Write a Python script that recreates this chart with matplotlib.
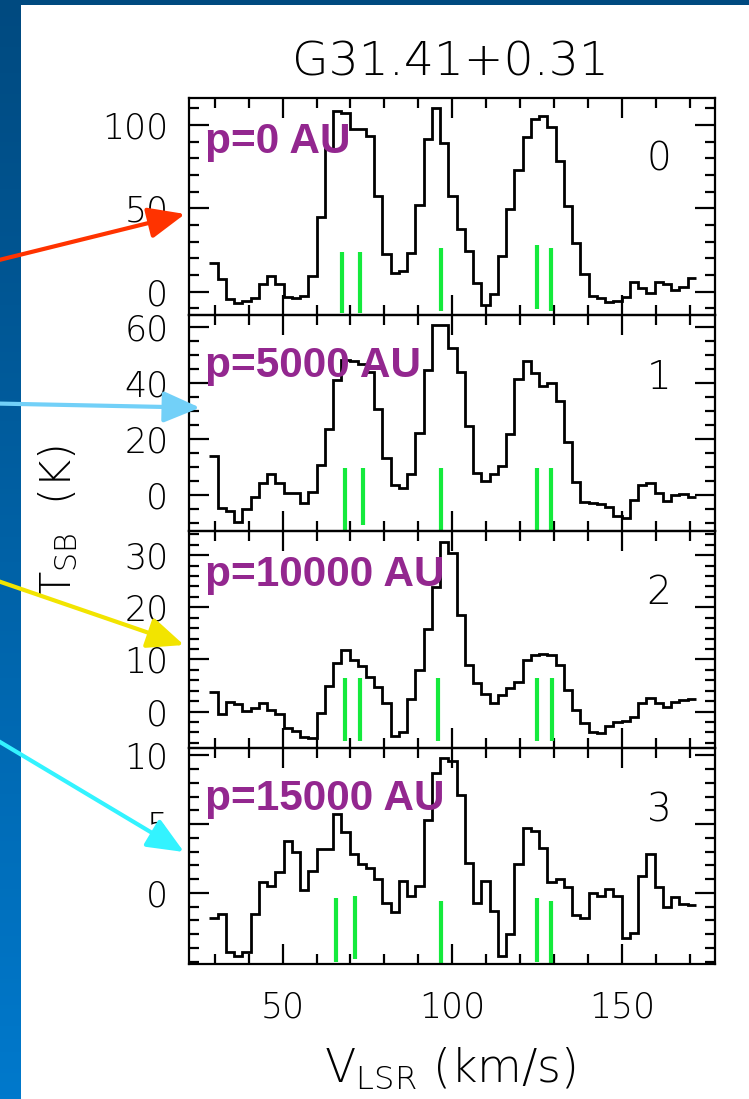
import numpy as np
import matplotlib
matplotlib.use('Agg')
import matplotlib.pyplot as plt
from matplotlib.patches import FancyArrowPatch
from matplotlib.ticker import MultipleLocator, FixedLocator
from matplotlib.colors import LinearSegmentedColormap

W, H = 749, 1099

# velocity grid (km/s)
chan_start = 28.4
chan_width = 2.43

# brightness temperature per channel (K)
spec_p0 = [17.4, 7.8, -4.2, -6.6, -5.6, -3.6, 4.4, 9.4, 4.8, -3.0,
           -4.0, -2.6, 9.4, 45.0, 85.4, 108.4, 107.4, 97.8, 97.8, 93.4,
           57.4, 22.4, 11.4, 12.4, 23.0, 51.8, 91.4, 110.4, 89.4, 57.4,
           37.8, 24.4, 5.4, -8.2, -1.6, 21.4, 49.4, 72.8, 93.0, 103.8,
           105.4, 99.0, 78.4, 51.4, 29.0, 10.4, -2.6, -4.0, -6.0, -5.6,
           -3.2, 6.0, 2.4, -1.0, 5.8, 4.4, 0.8, 3.0, 8.0]
spec_p1 = [14.0, -4.8, -5.6, -9.5, -5.0, -0.6, 4.4, 7.4, 4.2, 0.8,
           0.6, -3.0, 1.2, 10.7, 23.5, 41.0, 48.1, 47.8, 46.9, 44.0,
           30.7, 13.3, 3.6, 2.4, 7.5, 22.0, 44.6, 60.6, 60.6, 52.5,
           44.0, 24.7, 8.0, 5.1, 7.4, 10.3, 21.6, 41.4, 47.9, 43.4,
           38.9, 40.0, 33.6, 18.8, 4.8, -2.4, -3.0, -3.3, -4.4, -7.5,
           -8.1, -1.8, 3.6, 4.2, 0.8, -2.1, 0.0, 0.4, -0.6]
spec_p2 = [3.7, -0.4, 1.9, 1.5, 0.1, 0.6, 1.7, 0.3, -0.5, -3.1,
           -3.7, -4.9, -5.1, -0.3, 5.0, 9.4, 11.9, 9.9, 8.8, 6.6,
           4.8, 1.6, -4.7, -4.0, 2.4, 8.0, 15.8, 23.9, 32.6, 30.5,
           18.5, 8.9, 5.4, 3.4, 1.6, 3.1, 4.5, 5.7, 9.8, 10.9,
           11.0, 10.9, 8.9, 4.2, 0.4, -2.2, -4.0, -4.2, -2.7, -2.0,
           -1.8, -1.1, 1.6, 2.7, 1.6, 0.8, 1.9, 2.2, 2.4]
spec_p3 = [-1.8, -1.5, -4.3, -4.6, -4.3, -1.5, 0.8, 0.5, 1.5, 3.8,
           3.0, 0.2, 1.6, 3.2, 3.2, 5.7, 4.4, 2.8, 2.1, 1.8,
           1.0, -0.7, -1.4, 0.9, -0.2, 0.5, 5.3, 8.7, 9.8, 9.6,
           7.1, 2.2, -0.7, 0.9, -1.3, -4.6, -3.0, 2.1, 4.7, 4.5,
           3.3, 0.8, 1.0, 0.4, -1.6, -1.8, 0.0, -0.2, 0.3, -0.2,
           -3.3, -2.9, 1.2, 2.8, 0.4, -1.0, -0.3, -0.8, -0.9]
spectra = [spec_p0, spec_p1, spec_p2, spec_p3]

# green component markers: velocity, bottom, top (K)
green_v = [[67.5, 72.9, 96.7, 124.9, 129.0],
           [68.3, 73.8, 96.7, 124.9, 129.0],
           [68.3, 72.9, 95.7, 124.9, 129.5],
           [65.8, 71.4, 96.7, 124.9, 129.0]]
green_lo = [[-13.0, -13.0, -11.6, -10.2, -11.6],
            [-12.9, -10.7, -12.9, -12.9, -12.9],
            [-5.6, -5.6, -5.6, -5.6, -5.6],
            [-5.0, -4.8, -5.2, -5.0, -5.2]]
green_hi = [[24.0, 24.0, 26.0, 27.8, 26.0],
            [9.7, 9.7, 9.7, 9.7, 9.7],
            [6.4, 6.4, 6.4, 6.4, 6.4],
            [-0.4, -0.2, -0.6, -0.4, -0.6]]

offset_labels = ['p=0 AU', 'p=5000 AU', 'p=10000 AU', 'p=15000 AU']
panel_numbers = ['0', '1', '2', '3']
y_ticks = [[0, 50, 100], [0, 20, 40, 60], [0, 10, 20, 30], [0, 5, 10]]
y_minor = [10, 5, 2, 1]
y_limits = [(-13.8, 116.0), (-12.9, 64.3), (-6.9, 34.6), (-5.16, 10.56)]
x_limits = (22.5, 177.5)
x_ticks = [50, 100, 150]
title = 'G31.41+0.31'

edges = chan_start + chan_width * np.arange(len(spec_p0) + 1)

plt.rcParams['font.family'] = ['DejaVu Sans']
plt.rcParams['font.weight'] = 'light'

fig = plt.figure(figsize=(W / 100, H / 100), dpi=100)
fig.patch.set_facecolor('white')

# blue slide background strips
grad = np.linspace(0, 1, 256).reshape(-1, 1)
bcm = LinearSegmentedColormap.from_list('b', ['#004a80', '#0079cc'])
bax = fig.add_axes([0, 0, 21 / W, 1])
bax.imshow(grad, aspect='auto', cmap=bcm, extent=[0, 1, 0, 1], origin='upper')
bax.set_axis_off()
tax = fig.add_axes([0, 1 - 5 / H, 1, 5 / H])
tax.set_facecolor('#004a80')
tax.set_xticks([]); tax.set_yticks([])
for s in tax.spines.values():
    s.set_visible(False)

left, right = 189.3 / W, 715.3 / W
top, bottom = 1 - 98.3 / H, 1 - 964.0 / H
ph = (top - bottom) / 4

lw_ax = 1.6
axes = []
for i in range(4):
    ax = fig.add_axes([left, top - (i + 1) * ph, right - left, ph])
    axes.append(ax)
    ax.stairs(spectra[i], edges, baseline=None, color='black', lw=2.0, zorder=3)
    ax.vlines(green_v[i], green_lo[i], green_hi[i], color='#14ea3c', lw=3.0, zorder=2)
    ax.set_xlim(*x_limits)
    ax.set_ylim(*y_limits[i])
    ax.xaxis.set_major_locator(FixedLocator(x_ticks))
    ax.xaxis.set_minor_locator(MultipleLocator(10))
    ax.yaxis.set_major_locator(FixedLocator(y_ticks[i]))
    ax.yaxis.set_minor_locator(MultipleLocator(y_minor[i]))
    ax.tick_params(which='both', direction='in', top=True, right=True,
                   width=lw_ax, colors='black')
    ax.tick_params(which='major', length=14.5)
    ax.tick_params(which='minor', length=7.5)
    ax.tick_params(axis='y', labelsize=25, pad=15)
    ax.tick_params(axis='x', labelsize=25, pad=19)
    for s in ax.spines.values():
        s.set_linewidth(lw_ax)
    if i < 3:
        ax.tick_params(axis='x', labelbottom=False)
    ax.set_facecolor('none')

# purple offset labels (baseline positions in pixels)
lab_base = [152.7, 376.7, 585.7, 810.0]
for i in range(4):
    fig.text(205 / W, 1 - lab_base[i] / H, offset_labels[i], color='#93278f',
             fontsize=30.5, fontweight='bold', family='Liberation Sans',
             ha='left', va='baseline', zorder=10)

num_base = [171.0, 388.6, 604.5, 821.0]
for i in range(4):
    fig.text(659 / W, 1 - num_base[i] / H, panel_numbers[i], fontsize=28,
             ha='center', va='baseline')

fig.text(450 / W, 1 - 76 / H, title, fontsize=34, ha='center', va='baseline')
fig.text(450 / W, 1 - 1081.7 / H, r'V$_{\rm LSR}$ (km/s)', fontsize=33,
         ha='center', va='baseline')
fig.text(58 / W, 1 - 521 / H, r'T$_{\rm SB}$  (K)', fontsize=31, rotation=90,
         ha='center', va='center')

# arrows from the slide edge
arrows = [((-5, 261), (185, 214), '#ff3300'),
          ((-5, 403.5), (200, 407.7), '#72d0f8'),
          ((-5, 580), (184, 645), '#f2e400'),
          ((-5, 739), (184, 852), '#33f3ff')]
for (x0, y0), (x1, y1), c in arrows:
    a = FancyArrowPatch((x0 / W, 1 - y0 / H), (x1 / W, 1 - y1 / H),
                        transform=fig.transFigure,
                        arrowstyle='-|>,head_length=1.4,head_width=0.6',
                        mutation_scale=16, lw=3.0, color=c,
                        shrinkA=0, shrinkB=0, zorder=20)
    fig.add_artist(a)

fig.savefig('out.png', dpi=100, facecolor='white')
